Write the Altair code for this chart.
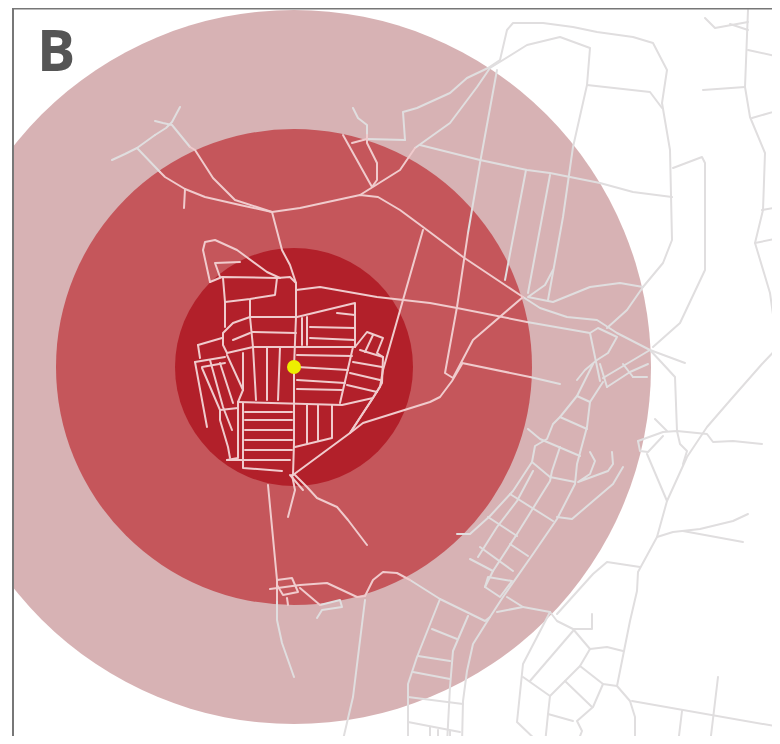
import altair as alt
import pandas as pd

# reference pixel coordinates
ring_x = [294, 294, 294]
ring_y = [367, 367, 367]
ring_radius = [357, 238, 119]
ring_color = ["#d7b2b4", "#c5565b", "#b2202a"]

dot_x = [294]
dot_y = [367]

roads_outer = [
 [(405,140),(403,112),(417,108),(450,93),(467,78),(488,68),(500,60),(507,30),(513,23),(543,23),(573,27),(597,32),(633,37),(653,43),(667,70),(662,103),(670,150),(672,240),(663,263),(643,287),(627,310),(607,328)],
 [(415,148),(450,123),(477,87),(490,68),(527,45),(560,37),(590,48),(587,85),(573,147),(563,217),(548,300)],
 [(497,70),(480,163),(468,233)],
 [(420,145),(480,160),(527,170),(550,173),(600,183),(633,192),(672,197)],
 [(526,170),(505,280)],
 [(550,175),(528,293)],
 [(553,270),(545,285),(528,297),(553,302),(590,287),(620,283),(643,287)],
 [(523,297),(540,308),(567,317),(597,320),(617,333),(650,350),(685,363)],
 [(527,322),(590,333),(600,381)],
 [(530,377),(560,384)],
 [(748,10),(745,87),(750,117),(765,153),(763,210),(755,243),(770,293),(777,343),(780,350)],
 [(748,50),(780,57)],
 [(703,90),(745,87)],
 [(752,118),(780,110)],
 [(762,210),(780,207)],
 [(755,243),(780,238)],
 [(705,18),(715,28),(748,22)],
 [(730,24),(748,30)],
 [(587,85),(650,92),(662,108)],
 [(673,168),(702,157),(705,163),(705,270),(680,323),(653,347)],
 [(650,350),(663,364),(675,377),(677,431),(680,444),(687,451),(683,464)],
 [(780,345),(762,364),(733,397),(707,427),(687,457),(667,501),(657,537),(638,572),(637,591),(630,621),(620,671),(617,686)],
 [(638,441),(663,432),(677,431),(707,434),(713,442),(733,441),(762,444)],
 [(655,419),(667,431)],
 [(647,454),(667,501)],
 [(638,441),(640,451),(648,452),(663,436)],
 [(657,537),(673,532),(700,529),(733,521),(748,514)],
 [(683,531),(743,542)],
 [(640,567),(607,562),(593,574),(557,614)],
 [(593,364),(577,396),(560,417),(553,424),(547,439),(535,446),(532,462),(513,491),(490,516),(470,534),(457,534)],
 [(603,382),(590,402),(587,427),(577,464),(575,484),(557,519),(533,554),(503,597),(490,617),(473,644),(467,671),(463,701),(462,744)],
 [(560,447),(552,471),(550,481),(517,534),(493,571),(485,587)],
 [(533,471),(517,501),(497,527),(478,557)],
 [(560,417),(587,429)],
 [(577,396),(590,402)],
 [(528,429),(540,439),(580,456)],
 [(532,462),(550,477),(575,482)],
 [(510,494),(553,521)],
 [(488,517),(517,536)],
 [(510,544),(528,556)],
 [(480,547),(513,571)],
 [(470,559),(493,571)],
 [(485,587),(500,597),(512,581),(488,577),(485,587)],
 [(590,452),(595,461),(590,474),(578,482),(608,471),(613,464),(612,452)],
 [(623,467),(613,484),(572,519),(557,517)],
 [(607,387),(630,372),(648,364)],
 [(600,364),(607,387)],
 [(633,377),(647,377)],
 [(623,364),(633,377)],
 [(650,350),(603,378)],
 [(590,333),(598,328),(617,337),(608,353),(597,360),(585,370),(577,380)],
 [(410,580),(440,599),(485,621),(490,617)],
 [(507,597),(523,607),(550,612),(557,621),(573,629),(592,629),(592,614)],
 [(573,629),(590,649),(607,647),(623,651)],
 [(590,649),(580,666),(603,684),(617,686),(630,701),(635,717),(635,744)],
 [(603,684),(593,707),(577,721),(582,731),(577,744)],
 [(550,612),(523,664),(517,722),(540,744)],
 [(523,677),(550,696),(565,681),(580,666)],
 [(565,681),(592,707)],
 [(550,696),(548,714),(545,744)],
 [(548,714),(573,721)],
 [(530,681),(573,631)],
 [(632,701),(780,727)],
 [(718,677),(710,744)],
 [(682,711),(678,744)],
 [(497,612),(523,607)],
 [(440,599),(417,657),(408,684),(408,744)],
 [(468,616),(453,651),(450,687),(447,744)],
 [(432,629),(457,639)],
 [(418,656),(450,661)],
 [(413,672),(450,679)],
 [(408,697),(463,704)],
 [(408,722),(460,732)],
 [(430,727),(430,744)],
 [(438,730),(438,744)],
 [(450,731),(450,744)],
 [(277,600),(277,620),(282,643),(294,677)],
 [(365,600),(353,697),(342,744)],
 [(320,605),(340,600),(342,607),(322,610),(317,618)],
 [(112,160),(125,154),(137,148),(155,135)],
 [(155,135),(166,128),(172,122),(180,107)],
 [(155,121),(163,123),(172,125),(190,147)],
 [(137,148),(160,172)],
 [(353,108),(358,118),(367,125),(367,135)],
 [(367,139),(405,140)],
]

roads_inner = [
 [(160,172),(165,177),(185,189),(205,197),(240,205),(272,212),(300,208),(360,195),(378,197),(400,210),(423,227),(463,257),(523,297)],
 [(190,147),(195,150),(213,178),(220,185),(235,200),(272,212)],
 [(185,189),(184,208)],
 [(272,212),(282,250),(290,265),(296,283),(296,317),(294,367),(294,443),(293,475)],
 [(367,135),(367,143),(377,163),(377,180),(372,187)],
 [(343,135),(372,187)],
 [(352,143),(367,139)],
 [(360,195),(400,170),(415,148)],
 [(468,233),(457,307),(445,373),(453,378),(473,340),(523,297)],
 [(462,363),(530,377)],
 [(462,364),(452,381),(440,397),(430,402),(363,423),(350,433),(293,475)],
 [(423,230),(403,300),(383,370),(380,387),(350,433)],
 [(268,485),(277,580),(277,600)],
 [(292,475),(295,490),(288,517)],
 [(295,475),(307,487),(317,498),(337,507),(348,520),(367,545)],
 [(270,589),(300,585),(327,583),(357,597),(365,596),(373,580),(383,572),(397,573),(410,580)],
 [(277,580),(292,578),(298,592),(283,595),(277,585)],
 [(287,598),(288,605)],
 [(300,588),(320,605)],
 [(210,282),(203,250),(205,242),(215,240),(237,250),(267,272),(280,278)],
 [(210,282),(222,277),(277,278),(290,277),(296,283)],
 [(220,277),(215,263),(240,262)],
 [(223,278),(225,302),(225,327)],
 [(225,302),(250,299),(275,295),(277,278)],
 [(250,300),(250,317),(253,347),(256,400)],
 [(296,317),(250,317),(233,323),(223,333),(223,345),(227,353)],
 [(296,333),(252,332)],
 [(233,340),(250,333)],
 [(198,345),(222,338)],
 [(198,345),(200,358)],
 [(227,353),(253,347),(353,347)],
 [(195,362),(225,357)],
 [(195,362),(207,427)],
 [(202,368),(220,410),(220,420),(228,447),(230,458)],
 [(202,367),(225,363)],
 [(210,360),(223,407),(232,430)],
 [(220,363),(233,403)],
 [(227,355),(243,390),(238,402)],
 [(220,410),(238,408)],
 [(243,353),(243,390)],
 [(267,347),(267,400)],
 [(280,347),(278,400)],
 [(238,402),(342,405),(373,398)],
 [(238,402),(238,458),(227,460)],
 [(243,403),(243,468),(282,471)],
 [(227,460),(290,460)],
 [(245,412),(292,412)],
 [(245,420),(292,420)],
 [(245,430),(292,430)],
 [(245,440),(292,440)],
 [(245,450),(292,450)],
 [(307,405),(307,443)],
 [(318,405),(318,440)],
 [(332,405),(332,438),(295,447)],
 [(297,317),(355,303),(355,347)],
 [(302,318),(302,345)],
 [(307,317),(307,345)],
 [(310,327),(355,328)],
 [(310,338),(355,340)],
 [(337,313),(355,315)],
 [(297,355),(352,356)],
 [(297,367),(348,370)],
 [(297,380),(345,383)],
 [(297,389),(342,390)],
 [(353,347),(340,403)],
 [(355,347),(367,332),(383,338),(377,353),(383,357),(382,383),(373,398),(350,433)],
 [(360,350),(383,357)],
 [(373,335),(365,352)],
 [(353,362),(382,367)],
 [(350,373),(380,380)],
 [(347,385),(377,392)],
 [(296,290),(320,287),(377,297),(430,303),(457,308),(527,322)],
 [(290,475),(303,490)],
]

label_text = ["B"]
label_x = [37]
label_y = [71]
frame_left = 13
frame_top = 8.5
left_edge = 8
right_edge = 772
top_edge = 8
bottom_edge = 736


def road_table(roads):
    rows = []
    for rid, road in enumerate(roads):
        for i, (x, y) in enumerate(road):
            rows.append({"road": rid, "i": i, "x": x, "y": y})
    return pd.DataFrame(rows)


X = alt.Scale(domain=[left_edge, right_edge])
Y = alt.Scale(domain=[bottom_edge, top_edge])
xq = alt.X("x:Q", scale=X, axis=None)
yq = alt.Y("y:Q", scale=Y, axis=None)

rings = pd.DataFrame({
    "x": ring_x, "y": ring_y,
    "d2": [(2 * r) ** 2 for r in ring_radius],
    "c": ring_color,
})

ring_layer = alt.Chart(rings).mark_point(filled=True, shape="circle", opacity=1, clip=True, strokeWidth=0).encode(
    x=xq, y=yq,
    size=alt.Size("d2:Q", scale=None, legend=None),
    color=alt.Color("c:N", scale=None, legend=None),
    order=alt.Order("d2:Q", sort="descending"),
)


def road_layer(roads, colour):
    return alt.Chart(road_table(roads)).mark_line(
        color=colour, strokeWidth=2, strokeJoin="round", strokeCap="round", clip=True
    ).encode(x=xq, y=yq, detail="road:N", order="i:Q")


outer_layer = road_layer(roads_outer, "#e0dedf")
inner_layer = road_layer(roads_inner, "#f0cbcd")

dot_layer = alt.Chart(pd.DataFrame({"x": dot_x, "y": dot_y})).mark_point(
    filled=True, shape="circle", size=196, color="#eeee00", opacity=1, strokeWidth=0
).encode(x=xq, y=yq)

mask_layer = alt.Chart(pd.DataFrame({"x": [left_edge], "x2": [frame_left], "y": [top_edge], "y2": [bottom_edge]})).mark_rect(
    color="white", opacity=1
).encode(x=xq, x2="x2:Q", y=yq, y2="y2:Q")

frame_v = alt.Chart(pd.DataFrame({"x": [frame_left], "y": [top_edge], "y2": [bottom_edge]})).mark_rule(
    color="#777777", strokeWidth=2
).encode(x=xq, y=yq, y2="y2:Q")

frame_h = alt.Chart(pd.DataFrame({"x": [frame_left], "x2": [right_edge], "y": [frame_top]})).mark_rule(
    color="#777777", strokeWidth=2
).encode(x=xq, x2="x2:Q", y=yq)

label_layer = alt.Chart(pd.DataFrame({"x": label_x, "y": label_y, "t": label_text})).mark_text(
    font="Open Sans", fontSize=57, fontWeight="bold", color="#555555", align="left", baseline="alphabetic"
).encode(x=xq, y=yq, text="t:N")

chart = alt.layer(
    ring_layer, outer_layer, inner_layer, dot_layer, mask_layer, frame_v, frame_h, label_layer
).properties(
    width=764, height=728, padding=0,
    autosize=alt.AutoSizeParams(type="none"),
).configure_view(stroke=None)

chart.save("out.html", embed_options={"renderer": "svg", "actions": False})
